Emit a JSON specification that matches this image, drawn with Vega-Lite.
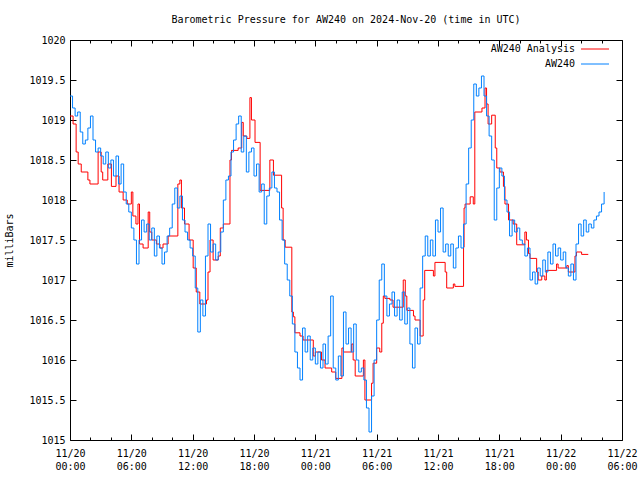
{
  "$schema": "https://vega.github.io/schema/vega-lite/v6.json",
  "width": 552,
  "height": 400,
  "autosize": {"type": "none"},
  "padding": {"left": 70, "top": 40, "right": 18, "bottom": 40},
  "background": "white",
  "title": {"text": "Barometric Pressure for AW240 on 2024-Nov-20 (time in UTC)", "font": "DejaVu Sans Mono", "fontSize": 10, "fontWeight": "normal", "color": "#000", "anchor": "middle", "offset": 10},
  "config": {
    "view": {"stroke": "#000", "strokeWidth": 1},
    "axis": {"labelFont": "DejaVu Sans Mono", "titleFont": "DejaVu Sans Mono", "labelFontSize": 10, "titleFontSize": 10, "titleFontWeight": "normal", "labelColor": "#000", "titleColor": "#000", "tickColor": "#000", "domain": false, "grid": false, "tickWidth": 1},
    "legend": {"labelFont": "DejaVu Sans Mono", "labelFontSize": 10, "labelColor": "#000"}
  },
  "datasets": {
    "ana": [
      {"h":0,"p":1019.05},{"h":0.3,"p":1018.95},{"h":0.6,"p":1018.6},{"h":0.8,"p":1018.45},{"h":1.1,"p":1018.35},{"h":1.75,"p":1018.25},{"h":1.95,"p":1018.2},{"h":2.75,"p":1018.6},{"h":3.05,"p":1018.35},{"h":3.2,"p":1018.25},{"h":3.7,"p":1018.45},{"h":4.05,"p":1018.17},{"h":4.5,"p":1018.3},{"h":4.8,"p":1018.1},{"h":5.2,"p":1018.0},{"h":5.6,"p":1017.95},{"h":6.0,"p":1018.1},{"h":6.15,"p":1017.8},{"h":6.45,"p":1017.7},{"h":6.65,"p":1017.95},{"h":6.8,"p":1017.45},{"h":7.15,"p":1017.4},{"h":7.65,"p":1017.85},{"h":7.8,"p":1017.6},{"h":8.0,"p":1017.5},{"h":8.45,"p":1017.45},{"h":8.8,"p":1017.4},{"h":9.1,"p":1017.45},{"h":9.6,"p":1017.55},{"h":10.55,"p":1018.2},{"h":10.75,"p":1018.25},{"h":10.9,"p":1017.9},{"h":11.2,"p":1017.7},{"h":11.65,"p":1017.5},{"h":12.05,"p":1017.15},{"h":12.35,"p":1016.85},{"h":12.7,"p":1016.7},{"h":13.35,"p":1016.75},{"h":13.5,"p":1017.1},{"h":13.7,"p":1017.5},{"h":14.0,"p":1017.25},{"h":14.5,"p":1017.3},{"h":14.7,"p":1017.65},{"h":15.0,"p":1017.7},{"h":15.65,"p":1018.5},{"h":15.8,"p":1018.62},{"h":16.45,"p":1018.65},{"h":16.8,"p":1018.97},{"h":16.95,"p":1018.8},{"h":17.3,"p":1018.77},{"h":17.6,"p":1019.28},{"h":17.75,"p":1019.0},{"h":18.1,"p":1018.72},{"h":18.6,"p":1018.12},{"h":19.55,"p":1018.5},{"h":19.9,"p":1018.31},{"h":20.7,"p":1017.9},{"h":20.85,"p":1017.5},{"h":21.05,"p":1017.41},{"h":21.7,"p":1016.6},{"h":21.85,"p":1016.54},{"h":22.0,"p":1016.34},{"h":22.5,"p":1016.3},{"h":22.8,"p":1016.25},{"h":23.8,"p":1016.05},{"h":24.0,"p":1016.1},{"h":24.6,"p":1016.0},{"h":24.95,"p":1015.9},{"h":25.6,"p":1015.85},{"h":26.0,"p":1015.77},{"h":26.6,"p":1016.15},{"h":26.75,"p":1016.1},{"h":27.55,"p":1016.2},{"h":27.7,"p":1016.0},{"h":27.9,"p":1015.8},{"h":28.7,"p":1016.0},{"h":28.85,"p":1015.5},{"h":29.5,"p":1015.71},{"h":29.65,"p":1015.96},{"h":30.0,"p":1016.15},{"h":30.3,"p":1016.1},{"h":30.5,"p":1016.46},{"h":30.65,"p":1016.8},{"h":30.8,"p":1016.77},{"h":31.3,"p":1016.75},{"h":31.6,"p":1016.66},{"h":32.6,"p":1017.0},{"h":32.8,"p":1016.8},{"h":32.95,"p":1016.62},{"h":33.6,"p":1016.55},{"h":33.75,"p":1016.5},{"h":34.25,"p":1016.3},{"h":34.55,"p":1016.75},{"h":34.7,"p":1017.12},{"h":35.55,"p":1017.05},{"h":35.7,"p":1017.22},{"h":36.7,"p":1017.1},{"h":36.85,"p":1016.9},{"h":37.5,"p":1016.95},{"h":37.65,"p":1016.92},{"h":38.5,"p":1017.41},{"h":38.55,"p":1017.9},{"h":38.65,"p":1017.95},{"h":39.15,"p":1018.04},{"h":39.45,"p":1017.95},{"h":39.6,"p":1019.1},{"h":40.3,"p":1019.15},{"h":40.6,"p":1019.4},{"h":40.75,"p":1019.2},{"h":40.9,"p":1018.95},{"h":41.25,"p":1019.06},{"h":41.6,"p":1018.65},{"h":41.75,"p":1018.4},{"h":42.05,"p":1018.35},{"h":42.4,"p":1018.17},{"h":42.55,"p":1017.95},{"h":42.9,"p":1017.75},{"h":43.35,"p":1017.7},{"h":43.7,"p":1017.44},{"h":44.5,"p":1017.6},{"h":44.65,"p":1017.5},{"h":44.85,"p":1017.33},{"h":45.0,"p":1017.27},{"h":45.65,"p":1017.1},{"h":45.8,"p":1017.0},{"h":46.15,"p":1017.05},{"h":46.45,"p":1017.0},{"h":46.6,"p":1017.12},{"h":47.6,"p":1017.2},{"h":47.75,"p":1017.15},{"h":48.6,"p":1017.18},{"h":48.75,"p":1017.1},{"h":49.4,"p":1017.3},{"h":49.55,"p":1017.35},{"h":50.05,"p":1017.32},{"h":50.7,"p":1017.32}
    ],
    "obs": [
      {"h":0,"p":1019.3},{"h":0.25,"p":1019.15},{"h":0.5,"p":1019.05},{"h":0.75,"p":1019.1},{"h":1.0,"p":1018.85},{"h":1.25,"p":1018.7},{"h":1.5,"p":1018.75},{"h":1.75,"p":1018.9},{"h":2.0,"p":1019.05},{"h":2.25,"p":1018.75},{"h":2.5,"p":1018.6},{"h":2.75,"p":1018.65},{"h":3.0,"p":1018.55},{"h":3.25,"p":1018.45},{"h":3.5,"p":1018.6},{"h":3.75,"p":1018.4},{"h":4.0,"p":1018.5},{"h":4.25,"p":1018.3},{"h":4.5,"p":1018.55},{"h":4.75,"p":1018.2},{"h":5.0,"p":1018.45},{"h":5.25,"p":1018.1},{"h":5.5,"p":1017.95},{"h":5.75,"p":1017.85},{"h":6.0,"p":1017.65},{"h":6.25,"p":1017.5},{"h":6.5,"p":1017.2},{"h":6.75,"p":1017.5},{"h":7.0,"p":1017.75},{"h":7.25,"p":1017.6},{"h":7.5,"p":1017.7},{"h":7.75,"p":1017.5},{"h":8.0,"p":1017.65},{"h":8.25,"p":1017.3},{"h":8.5,"p":1017.55},{"h":8.75,"p":1017.4},{"h":9.0,"p":1017.2},{"h":9.25,"p":1017.35},{"h":9.5,"p":1017.55},{"h":9.75,"p":1017.65},{"h":10.0,"p":1017.95},{"h":10.25,"p":1018.15},{"h":10.5,"p":1017.9},{"h":10.75,"p":1018.05},{"h":11.0,"p":1017.75},{"h":11.25,"p":1017.6},{"h":11.5,"p":1017.5},{"h":11.75,"p":1017.4},{"h":12.0,"p":1017.3},{"h":12.25,"p":1016.9},{"h":12.5,"p":1016.35},{"h":12.75,"p":1016.75},{"h":13.0,"p":1016.55},{"h":13.25,"p":1017.3},{"h":13.5,"p":1017.7},{"h":13.75,"p":1017.35},{"h":14.0,"p":1017.45},{"h":14.25,"p":1017.25},{"h":14.5,"p":1017.35},{"h":14.75,"p":1017.6},{"h":15.0,"p":1018.0},{"h":15.25,"p":1018.25},{"h":15.5,"p":1018.3},{"h":15.75,"p":1018.6},{"h":16.0,"p":1018.75},{"h":16.25,"p":1018.95},{"h":16.5,"p":1019.05},{"h":16.75,"p":1018.6},{"h":17.0,"p":1018.8},{"h":17.25,"p":1018.35},{"h":17.5,"p":1018.6},{"h":17.75,"p":1018.65},{"h":18.0,"p":1018.3},{"h":18.25,"p":1018.45},{"h":18.5,"p":1018.1},{"h":18.75,"p":1018.2},{"h":19.0,"p":1017.7},{"h":19.25,"p":1018.05},{"h":19.5,"p":1018.15},{"h":19.75,"p":1018.35},{"h":20.0,"p":1018.15},{"h":20.25,"p":1018.1},{"h":20.5,"p":1017.75},{"h":20.75,"p":1017.5},{"h":21.0,"p":1017.2},{"h":21.25,"p":1017.0},{"h":21.5,"p":1016.8},{"h":21.75,"p":1016.45},{"h":22.0,"p":1016.1},{"h":22.25,"p":1015.9},{"h":22.5,"p":1015.75},{"h":22.75,"p":1016.4},{"h":23.0,"p":1016.1},{"h":23.25,"p":1016.3},{"h":23.5,"p":1016.0},{"h":23.75,"p":1016.15},{"h":24.0,"p":1015.95},{"h":24.25,"p":1016.1},{"h":24.5,"p":1015.9},{"h":24.75,"p":1016.2},{"h":25.0,"p":1015.95},{"h":25.25,"p":1016.3},{"h":25.5,"p":1016.8},{"h":25.75,"p":1015.9},{"h":26.0,"p":1015.75},{"h":26.25,"p":1016.05},{"h":26.5,"p":1015.8},{"h":26.75,"p":1016.6},{"h":27.0,"p":1016.2},{"h":27.25,"p":1016.4},{"h":27.5,"p":1016.1},{"h":27.75,"p":1016.45},{"h":28.0,"p":1016.0},{"h":28.25,"p":1015.85},{"h":28.5,"p":1015.9},{"h":28.75,"p":1015.75},{"h":29.0,"p":1015.4},{"h":29.25,"p":1015.1},{"h":29.5,"p":1015.55},{"h":29.75,"p":1016.0},{"h":30.0,"p":1016.5},{"h":30.25,"p":1017.0},{"h":30.5,"p":1017.2},{"h":30.75,"p":1016.8},{"h":31.0,"p":1016.55},{"h":31.25,"p":1016.7},{"h":31.5,"p":1016.85},{"h":31.75,"p":1016.55},{"h":32.0,"p":1016.75},{"h":32.25,"p":1016.5},{"h":32.5,"p":1016.85},{"h":32.75,"p":1016.45},{"h":33.0,"p":1016.65},{"h":33.25,"p":1016.2},{"h":33.5,"p":1015.9},{"h":33.75,"p":1016.4},{"h":34.0,"p":1016.2},{"h":34.25,"p":1016.9},{"h":34.5,"p":1017.3},{"h":34.75,"p":1017.55},{"h":35.0,"p":1017.3},{"h":35.25,"p":1017.5},{"h":35.5,"p":1017.3},{"h":35.75,"p":1017.75},{"h":36.0,"p":1017.6},{"h":36.25,"p":1017.9},{"h":36.5,"p":1017.35},{"h":36.75,"p":1017.45},{"h":37.0,"p":1017.3},{"h":37.25,"p":1017.45},{"h":37.5,"p":1017.15},{"h":37.75,"p":1017.4},{"h":38.0,"p":1017.55},{"h":38.25,"p":1017.4},{"h":38.5,"p":1017.7},{"h":38.75,"p":1018.2},{"h":39.0,"p":1018.65},{"h":39.25,"p":1019.0},{"h":39.5,"p":1019.45},{"h":39.75,"p":1019.3},{"h":40.0,"p":1019.4},{"h":40.25,"p":1019.55},{"h":40.5,"p":1019.3},{"h":40.75,"p":1019.05},{"h":41.0,"p":1018.8},{"h":41.25,"p":1018.5},{"h":41.5,"p":1017.75},{"h":41.75,"p":1018.15},{"h":42.0,"p":1018.4},{"h":42.25,"p":1018.3},{"h":42.5,"p":1018.0},{"h":42.75,"p":1017.85},{"h":43.0,"p":1017.55},{"h":43.25,"p":1017.75},{"h":43.5,"p":1017.6},{"h":43.75,"p":1017.65},{"h":44.0,"p":1017.5},{"h":44.25,"p":1017.45},{"h":44.5,"p":1017.3},{"h":44.75,"p":1017.4},{"h":45.0,"p":1017.0},{"h":45.25,"p":1017.1},{"h":45.5,"p":1016.95},{"h":45.75,"p":1017.15},{"h":46.0,"p":1017.05},{"h":46.25,"p":1017.25},{"h":46.5,"p":1017.1},{"h":46.75,"p":1017.35},{"h":47.0,"p":1017.2},{"h":47.25,"p":1017.45},{"h":47.5,"p":1017.3},{"h":47.75,"p":1017.4},{"h":48.0,"p":1017.25},{"h":48.25,"p":1017.35},{"h":48.5,"p":1017.15},{"h":48.75,"p":1017.05},{"h":49.0,"p":1017.2},{"h":49.25,"p":1017.0},{"h":49.5,"p":1017.45},{"h":49.75,"p":1017.7},{"h":50.0,"p":1017.55},{"h":50.25,"p":1017.75},{"h":50.5,"p":1017.6},{"h":50.75,"p":1017.7},{"h":51.0,"p":1017.65},{"h":51.25,"p":1017.75},{"h":51.5,"p":1017.8},{"h":51.75,"p":1017.85},{"h":52.0,"p":1017.95},{"h":52.25,"p":1018.1}
    ]
  },
  "layer": [
    {
      "data": {"name": "ana"},
      "mark": {"type": "line", "interpolate": "step-after", "strokeWidth": 1},
      "encoding": {
        "x": {"field": "h", "type": "quantitative", "scale": {"domain": [0, 54], "nice": false, "zero": false},
          "axis": {"orient": "top", "title": null, "labels": false, "values": [0,2,4,6,8,10,12,14,16,18,20,22,24,26,28,30,32,34,36,38,40,42,44,46,48,50,52,54],
            "tickSize": {"condition": {"test": "datum.value % 6 == 0", "value": -6}, "value": -3}}},
        "y": {"field": "p", "type": "quantitative", "scale": {"domain": [1015, 1020], "nice": false, "zero": false},
          "axis": {"orient": "right", "title": null, "labels": false, "values": [1015,1015.5,1016,1016.5,1017,1017.5,1018,1018.5,1019,1019.5,1020], "tickSize": -6}},
        "color": {"datum": "AW240 Analysis", "type": "nominal",
          "scale": {"domain": ["AW240 Analysis", "AW240"], "range": ["#ff0000", "#0080ff"]},
          "legend": {"orient": "none", "legendX": 520, "legendY": 4, "title": null, "symbolType": "M-4,0H4", "symbolSize": 49, "symbolStrokeWidth": 1, "labelAlign": "right", "labelOffset": -25, "rowPadding": 5, "padding": 0, "labelLimit": 200}}
      }
    },
    {
      "data": {"name": "obs"},
      "mark": {"type": "line", "interpolate": "step-after", "strokeWidth": 1},
      "encoding": {
        "x": {"field": "h", "type": "quantitative",
          "axis": {"orient": "bottom", "title": null, "values": [0,2,4,6,8,10,12,14,16,18,20,22,24,26,28,30,32,34,36,38,40,42,44,46,48,50,52,54],
            "labelExpr": "datum.value % 6 == 0 ? [datum.value < 24 ? '11/20' : datum.value < 48 ? '11/21' : '11/22', (datum.value % 24 < 10 ? '0' : '') + (datum.value % 24) + ':00'] : ''",
            "tickSize": {"condition": {"test": "datum.value % 6 == 0", "value": -6}, "value": -3},
            "labelPadding": 14, "labelOverlap": false, "labelFlush": false, "labelBound": false, "labelLineHeight": 13}},
        "y": {"field": "p", "type": "quantitative",
          "axis": {"orient": "left", "title": "milliBars", "values": [1015,1015.5,1016,1016.5,1017,1017.5,1018,1018.5,1019,1019.5,1020], "format": "~f",
            "tickSize": -6, "labelPadding": 11, "labelOverlap": false, "labelFlush": false, "labelBound": false, "titlePadding": 14}},
        "color": {"datum": "AW240", "type": "nominal"}
      }
    }
  ],
  "resolve": {"axis": {"x": "independent", "y": "independent"}}
}
